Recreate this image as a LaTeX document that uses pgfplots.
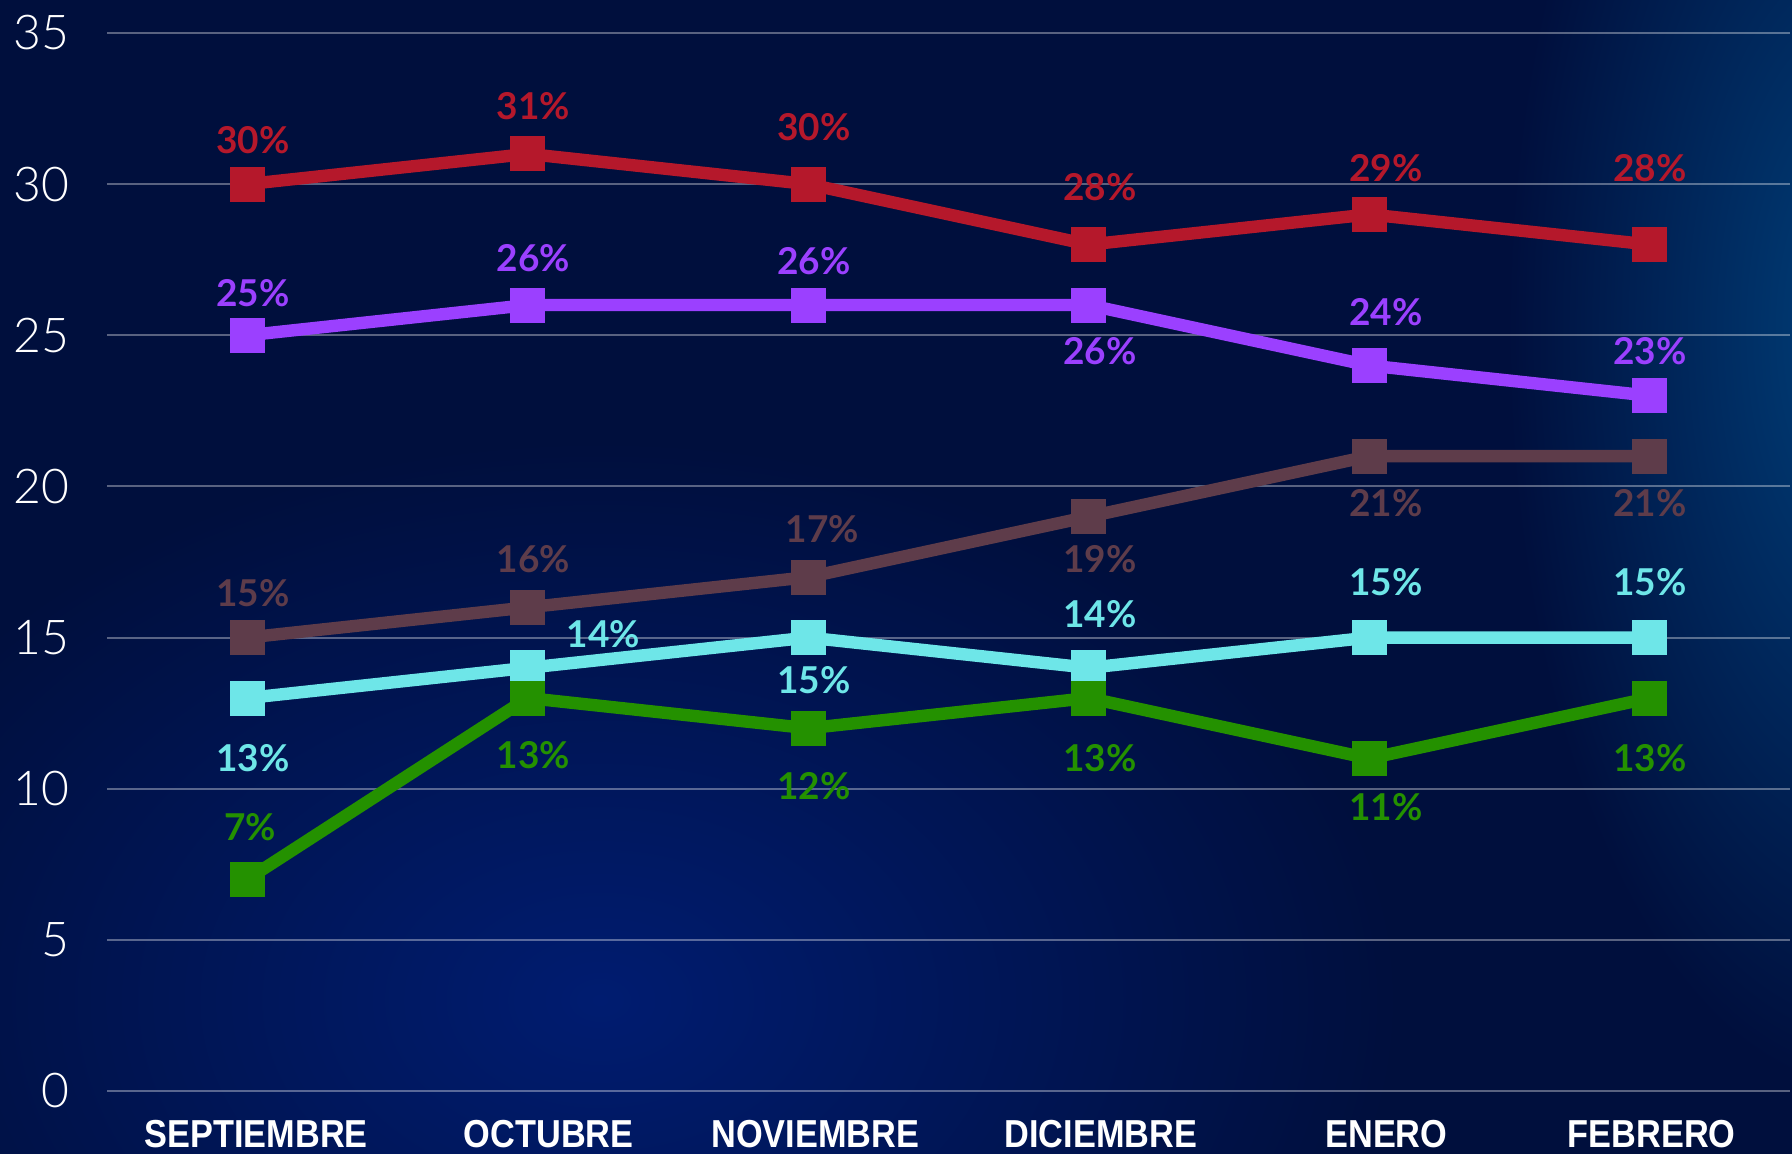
\documentclass[border=0pt]{standalone}
\usepackage{pgfplots}
\pgfplotsset{compat=1.18}
\usepackage{fontspec}
\setmainfont{Lato}
\newfontfamily\lightfont{Lato Light}
\newfontfamily\xfont{Liberation Sans}[FakeStretch=0.88]
\definecolor{cred}{HTML}{B5182B}
\definecolor{cpur}{HTML}{9B40FF}
\definecolor{cbrn}{HTML}{5E3C4A}
\definecolor{ccyan}{HTML}{6EE6E8}
\definecolor{cgrn}{HTML}{249100}
\definecolor{bg}{HTML}{000F3D}
\definecolor{glowA}{HTML}{001C70}
\definecolor{glowB}{HTML}{00407A}
\pgfplotsset{
  ser/.style={color=#1, line width=6.2pt, mark=square*, mark size=8.5pt, mark options={solid, line width=0.5pt}},
  lab/.style={draw=none, mark=none, nodes near coords={\pgfplotspointmeta\%}, point meta=explicit symbolic,
     nodes near coords style={anchor=center, inner sep=0pt, text=#1, font=\bfseries\fontsize{18.5}{18.5}\selectfont}},
}
\begin{document}
\begin{tikzpicture}
\path[use as bounding box] (-53.5pt,-31.5pt) rectangle (842.5pt,545.5pt);
\begin{scope}
\clip (-53.5pt,-31.5pt) rectangle (842.5pt,545.5pt);
\fill[bg] (-53.5pt,-31.5pt) rectangle (842.5pt,545.5pt);
\shade[inner color=glowA, outer color=bg] (246.5pt,45.5pt) ellipse [x radius=400pt, y radius=280pt];
\shade[inner color=glowB, outer color=bg] (880pt,380pt) ellipse [x radius=180pt, y radius=380pt];
\end{scope}
\begin{axis}[
  at={(0pt,0pt)}, anchor=south west, scale only axis,
  width=841.5pt, height=529pt,
  xmin=-0.5, xmax=5.5, ymin=0, ymax=35,
  ytick={0,5,10,15,20,25,30,35},
  xtick={0.032,1.075,2.025,3.043,4.061,5.007},
  xticklabels={SEPTIEMBRE,OCTUBRE,NOVIEMBRE,DICIEMBRE,ENERO,FEBRERO},
  ymajorgrids,
  major grid style={white, opacity=0.35, line width=1pt},
  axis line style={draw=none},
  major tick length=0pt,
  /pgf/number format/assume math mode=true,
  yticklabel style={anchor=east, inner sep=0pt, xshift=-18.5pt, text=white, font=\lightfont\fontsize{24}{24}\selectfont},
  xticklabel style={anchor=base, inner sep=0pt, yshift=-28.5pt, text=white, font=\xfont\bfseries\fontsize{19.5}{19.5}\selectfont},
  clip=false,
]
\addplot[ser=cred] coordinates {(0,30)(1,31)(2,30)(3,28)(4,29)(5,28)};
\addplot[ser=cpur] coordinates {(0,25)(1,26)(2,26)(3,26)(4,24)(5,23)};
\addplot[ser=cbrn] coordinates {(0,15)(1,16)(2,17)(3,19)(4,21)(5,21)};
\addplot[ser=ccyan] coordinates {(0,13)(1,14)(2,15)(3,14)(4,15)(5,15)};
\addplot[ser=cgrn] coordinates {(0,7)(1,13)(2,12)(3,13)(4,11)(5,13)};

\addplot[lab=cred] table[meta=l] {
x y l
0.02 31.45 30
1.02 32.58 31
2.02 31.90 30
3.04 29.90 28
4.06 30.54 29
5.00 30.54 28
};
\addplot[lab=cpur] table[meta=l] {
x y l
0.02 26.39 25
1.02 27.56 26
2.02 27.44 26
3.04 24.46 26
4.06 25.78 24
5.00 24.46 23
};
\addplot[lab=cbrn] table[meta=l] {
x y l
0.02 16.46 15
1.02 17.59 16
2.05 18.57 17
3.04 17.59 19
4.06 19.44 21
5.00 19.44 21
};
\addplot[lab=ccyan] table[meta=l] {
x y l
0.02 11.02 13
1.27 15.10 14
2.02 13.59 15
3.04 15.78 14
4.06 16.84 15
5.00 16.84 15
};
\addplot[lab=cgrn] table[meta=l] {
x y l
0.01 8.72 7
1.02 11.10 13
2.02 10.08 12
3.04 11.02 13
4.06 9.40 11
5.00 11.02 13
};
\end{axis}
\end{tikzpicture}
\end{document}
